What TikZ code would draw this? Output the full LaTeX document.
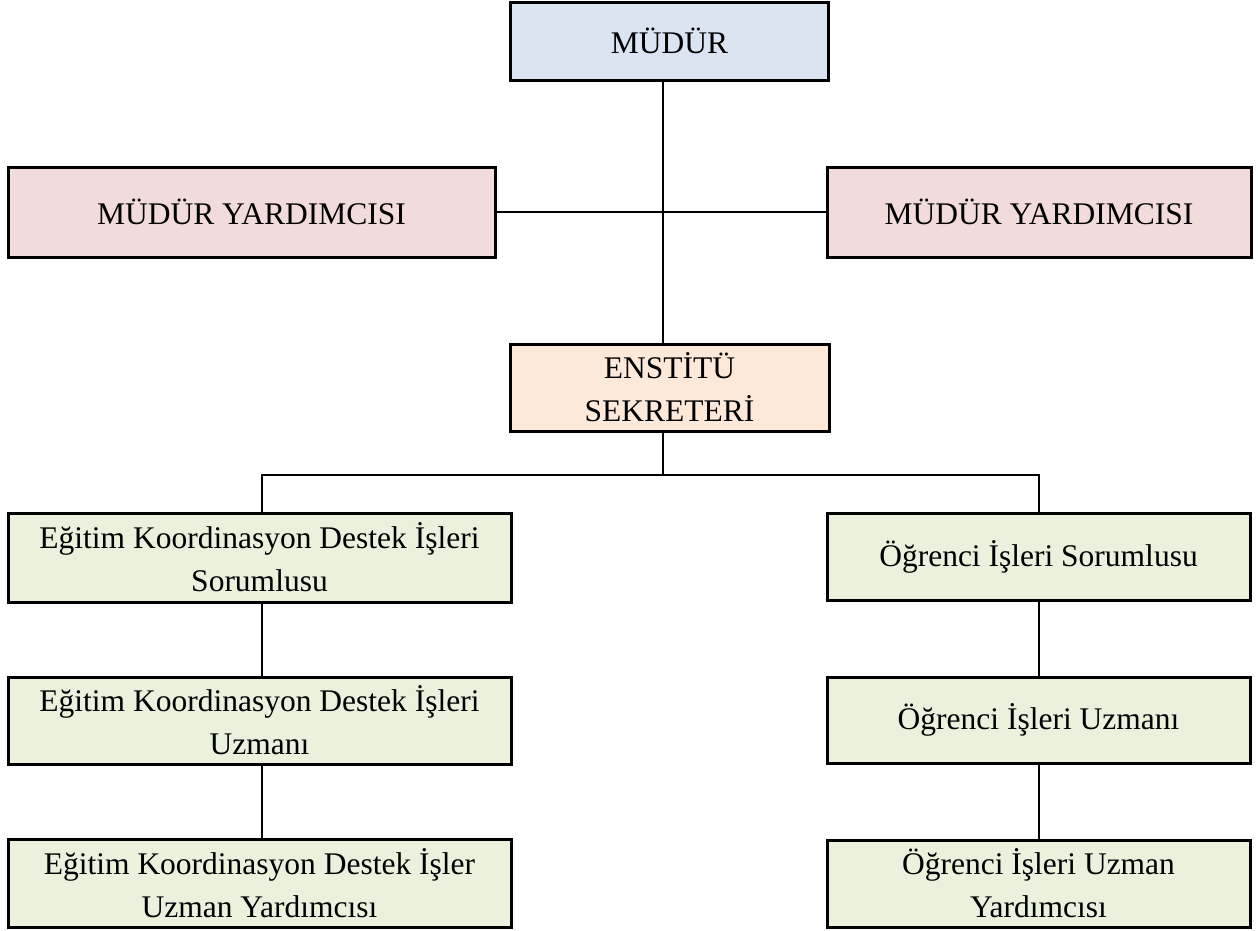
\documentclass[tikz,border=0pt]{standalone}
\usepackage{fontspec}
\setmainfont{Liberation Serif}
\definecolor{cblue}{HTML}{DBE5F1}
\definecolor{cpink}{HTML}{F2DCDB}
\definecolor{cpeach}{HTML}{FDE9D9}
\definecolor{cgreen}{HTML}{EAF1DD}
\begin{document}
\begin{tikzpicture}[x=1pt,y=-1pt,
  boxst/.style={draw=black,line width=3pt,rectangle,inner sep=0pt,align=center,
    font=\fontsize{31.5}{43}\selectfont},
  conn/.style={line width=2.3pt,draw=black}]
\useasboundingbox (0,0) rectangle (1258,930);
\fill[white] (0,0) rectangle (1258,930);
% top level
\node[boxst,fill=cblue,minimum width=318pt,minimum height=78pt] (mudur) at (669.5,41) {MÜDÜR};
\node[boxst,fill=cpink,minimum width=487pt,minimum height=90pt] (myl) at (251.5,212) {MÜDÜR YARDIMCISI};
\node[boxst,fill=cpink,minimum width=424pt,minimum height=90pt] (myr) at (1039,212) {MÜDÜR YARDIMCISI};
\node[boxst,fill=cpeach,minimum width=319pt,minimum height=87pt] (ens) at (669.5,387.5) {ENSTİTÜ\\SEKRETERİ};
% left column
\node[boxst,fill=cgreen,minimum width=503pt,minimum height=89pt] (l1) at (259.5,557.5) {Eğitim Koordinasyon Destek İşleri\\Sorumlusu};
\node[boxst,fill=cgreen,minimum width=503pt,minimum height=87pt] (l2) at (259.5,720.5) {Eğitim Koordinasyon Destek İşleri\\Uzmanı};
\node[boxst,fill=cgreen,minimum width=503pt,minimum height=88pt] (l3) at (259.5,883) {Eğitim Koordinasyon Destek İşler\\Uzman Yardımcısı};
% right column
\node[boxst,fill=cgreen,minimum width=423pt,minimum height=87pt] (r1) at (1038.5,556.5) {Öğrenci İşleri Sorumlusu};
\node[boxst,fill=cgreen,minimum width=423pt,minimum height=86pt] (r2) at (1038.5,720) {Öğrenci İşleri Uzmanı};
\node[boxst,fill=cgreen,minimum width=423pt,minimum height=87pt] (r3) at (1038.5,883.5) {Öğrenci İşleri Uzman\\Yardımcısı};
% connectors
\coordinate (jm) at (663,212);
\coordinate (js) at (663,475);
\coordinate (jl) at (262,475);
\coordinate (jr) at (1039,475);
\draw[conn] (mudur.south -| jm) -- (ens.north -| jm);
\draw[conn] (myl.east) -- (myr.west);
\draw[conn] (ens.south -| js) -- (js);
\draw[conn,line cap=rect] (jl) -- (jr);
\draw[conn] (jl) -- (l1.north -| jl);
\draw[conn] (jr) -- (r1.north -| jr);
\draw[conn] (l1.south -| jl) -- (l2.north -| jl);
\draw[conn] (l2.south -| jl) -- (l3.north -| jl);
\draw[conn] (r1.south -| jr) -- (r2.north -| jr);
\draw[conn] (r2.south -| jr) -- (r3.north -| jr);
\end{tikzpicture}
\end{document}
